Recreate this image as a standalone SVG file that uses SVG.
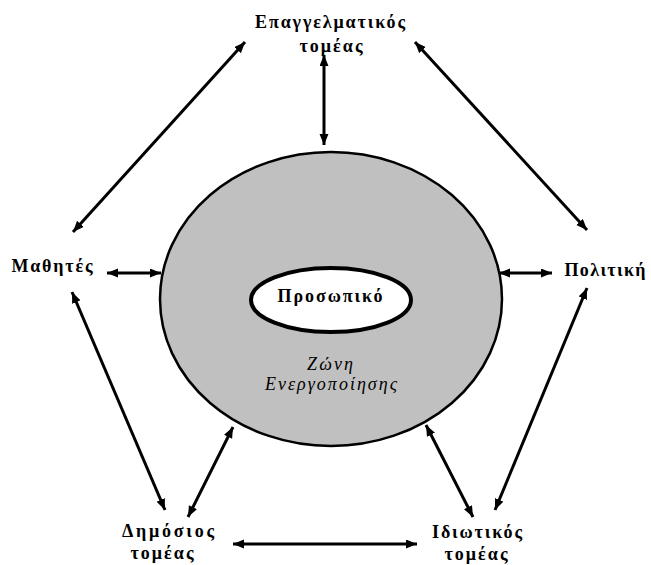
<svg xmlns="http://www.w3.org/2000/svg" width="651" height="565" viewBox="0 0 651 565">
<style>
.lbl{font-family:"Liberation Serif","Times New Roman",serif;font-weight:bold;font-size:18px;fill:#000;text-anchor:middle}
.it{font-family:"Liberation Serif","Times New Roman",serif;font-style:italic;font-size:18px;fill:#000;text-anchor:middle}
.arr{stroke:#000;stroke-width:3;fill:none;marker-start:url(#ah);marker-end:url(#ah)}
</style>
<defs>
<marker id="ah" markerUnits="userSpaceOnUse" markerWidth="12" markerHeight="10" refX="11" refY="4.5" orient="auto-start-reverse">
<path d="M0,0 L11,4.5 L0,9 Z" fill="#000"/>
</marker>
</defs>
<rect width="651" height="565" fill="#fff"/>
<g id="zone">
<ellipse cx="331" cy="299" rx="171" ry="147" fill="#c0c0c0" stroke="#000" stroke-width="2.5"/>
<text class="it" x="330" y="370" textLength="46" lengthAdjust="spacing">Ζώνη</text>
<text class="it" x="331" y="390" textLength="132" lengthAdjust="spacing">Ενεργοποίησης</text>
</g>
<g id="personal">
<ellipse cx="331" cy="300" rx="80" ry="32" fill="#fff" stroke="#000" stroke-width="4"/>
<text class="lbl" x="330" y="302" textLength="105" lengthAdjust="spacing">Προσωπικό</text>
</g>
<g id="professional">
<text class="lbl" x="330" y="28" textLength="150" lengthAdjust="spacing">Επαγγελματικός</text>
<text class="lbl" x="331" y="52" textLength="63" lengthAdjust="spacing">τομέας</text>
</g>
<g id="students">
<text class="lbl" x="52" y="272" textLength="81" lengthAdjust="spacing">Μαθητές</text>
</g>
<g id="politics">
<text class="lbl" x="605" y="276" textLength="81" lengthAdjust="spacing">Πολιτική</text>
</g>
<g id="public">
<text class="lbl" x="168" y="537" textLength="92" lengthAdjust="spacing">Δημόσιος</text>
<text class="lbl" x="162" y="559" textLength="63" lengthAdjust="spacing">τομέας</text>
</g>
<g id="private">
<text class="lbl" x="477" y="538" textLength="90" lengthAdjust="spacing">Ιδιωτικός</text>
<text class="lbl" x="476" y="560" textLength="63" lengthAdjust="spacing">τομέας</text>
</g>
<g id="connectors">
<line class="arr" x1="73" y1="232" x2="245" y2="42"/>
<line class="arr" x1="415" y1="42" x2="587" y2="230"/>
<line class="arr" x1="324" y1="55" x2="324" y2="145"/>
<line class="arr" x1="107" y1="273" x2="161" y2="273"/>
<line class="arr" x1="499" y1="273" x2="552" y2="273"/>
<line class="arr" x1="72" y1="292" x2="165" y2="510"/>
<line class="arr" x1="233" y1="427" x2="188" y2="517"/>
<line class="arr" x1="233" y1="544" x2="417" y2="544"/>
<line class="arr" x1="426" y1="425" x2="473" y2="517"/>
<line class="arr" x1="587" y1="288" x2="495" y2="510"/>
</g>
</svg>
